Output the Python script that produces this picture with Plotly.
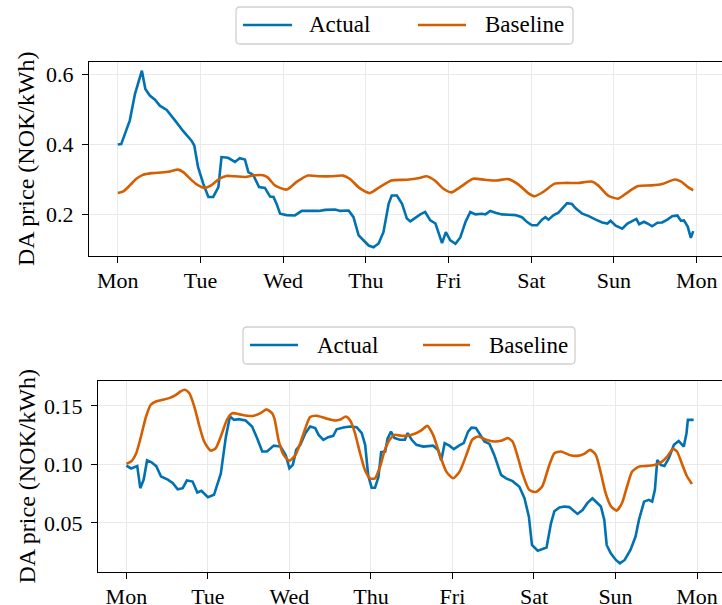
import plotly.graph_objects as go

W, H = 722, 605
BLUE = "#0072B2"
ORANGE = "#D55E00"
FONT = "'Liberation Serif', 'Times New Roman', 'DejaVu Serif', serif"

day_labels = ["Mon", "Tue", "Wed", "Thu", "Fri", "Sat", "Sun", "Mon"]
day_hours = [0, 24, 48, 72, 96, 120, 144, 168]
series_names = ["Actual", "Baseline"]
y_title = "DA price (NOK/kWh)"

top_ticks = [0.2, 0.4, 0.6]
top_ticklabels = ["0.2", "0.4", "0.6"]
bottom_ticks = [0.05, 0.10, 0.15]
bottom_ticklabels = ["0.05", "0.10", "0.15"]

# (hour, NOK/kWh)
top_actual = [
    (0, 0.400), (1, 0.401), (3.5, 0.469), (5, 0.545), (7, 0.611), (8, 0.559), (9.3, 0.540),
    (10.8, 0.528), (12.2, 0.511), (14.2, 0.499), (16.6, 0.469), (19, 0.438), (21.4, 0.411),
    (22.2, 0.397), (23.3, 0.335), (24.8, 0.288), (26.3, 0.250), (27.7, 0.250), (29.2, 0.278),
    (30.1, 0.364), (32, 0.362), (34, 0.350), (35.4, 0.361), (36.9, 0.357), (37.9, 0.321),
    (39.3, 0.313), (41, 0.278), (42.7, 0.276), (44.2, 0.251), (45.2, 0.250), (46.1, 0.230),
    (47.1, 0.202), (49, 0.198), (51.4, 0.197), (53.4, 0.210), (55.8, 0.210), (58.3, 0.210),
    (60.2, 0.213), (61.6, 0.213), (63.1, 0.214), (64.5, 0.210), (67, 0.211), (68.4, 0.192),
    (69.9, 0.140), (71.3, 0.126), (72.8, 0.111), (74.2, 0.106), (75.7, 0.117), (77.1, 0.149),
    (78.6, 0.230), (79.5, 0.254), (81, 0.254), (82.5, 0.230), (83.9, 0.188), (84.9, 0.180),
    (86.3, 0.190), (87.8, 0.200), (89.2, 0.207), (90.7, 0.183), (92.2, 0.174), (93.1, 0.150),
    (94.1, 0.118), (95.2, 0.149), (96.5, 0.126), (98, 0.116), (99.4, 0.134), (100.9, 0.178),
    (102.3, 0.207), (103.8, 0.200), (105.7, 0.202), (106.7, 0.200), (108.1, 0.210),
    (109.6, 0.205), (111.5, 0.200), (113.5, 0.199), (115.4, 0.198), (117.3, 0.192),
    (118.8, 0.178), (120.2, 0.169), (121.7, 0.169), (123.1, 0.185), (124.1, 0.192),
    (125, 0.185), (126.5, 0.198), (127.9, 0.205), (129.4, 0.221), (130.4, 0.232),
    (131.8, 0.230), (132.8, 0.218), (134.8, 0.202), (136.7, 0.195), (138.7, 0.185),
    (140.6, 0.177), (142.1, 0.174), (143, 0.182), (144.5, 0.168), (146.4, 0.159),
    (147.9, 0.174), (149.3, 0.182), (150.5, 0.187), (151.3, 0.172), (152.7, 0.179),
    (153.7, 0.174), (155.1, 0.166), (156.6, 0.176), (158, 0.177), (159.5, 0.185),
    (160.9, 0.195), (162.4, 0.197), (163.4, 0.182), (164.3, 0.183), (165.4, 0.165),
    (166.3, 0.133), (167, 0.152),
]

top_baseline = [
    (0, 0.261), (1.6, 0.266), (3.5, 0.283), (5.4, 0.302), (7.3, 0.313), (9.8, 0.318),
    (12.7, 0.320), (15.1, 0.323), (17.5, 0.328), (19, 0.321), (21, 0.302), (22.9, 0.286),
    (25.2, 0.276), (27.1, 0.283), (29.5, 0.302), (31.5, 0.310), (34, 0.309), (36.9, 0.307),
    (39.8, 0.312), (42.2, 0.312), (43.5, 0.306), (45.6, 0.283), (49, 0.271), (51.9, 0.293),
    (55.2, 0.311), (58.6, 0.309), (62, 0.309), (65.4, 0.311), (67.3, 0.302), (70.2, 0.275),
    (73.1, 0.261), (76, 0.278), (79.4, 0.297), (83.8, 0.299), (87.6, 0.304), (89.6, 0.309),
    (92, 0.297), (94.4, 0.274), (96.8, 0.263), (99.7, 0.280), (103.1, 0.302), (106.5, 0.299),
    (109.9, 0.297), (113.3, 0.301), (116.2, 0.286), (119.1, 0.261), (121, 0.252),
    (123.4, 0.264), (126.8, 0.288), (129.7, 0.290), (133.6, 0.290), (137.5, 0.294),
    (139.4, 0.283), (142.3, 0.254), (145.2, 0.245), (148.1, 0.264), (151, 0.281),
    (154.9, 0.283), (158.3, 0.288), (161.6, 0.300), (163.5, 0.294), (165.5, 0.278),
    (167, 0.269),
]

bottom_actual = [
    (0, 0.099), (1.4, 0.0965), (3.2, 0.0985), (4.1, 0.0797), (5.1, 0.087), (6.1, 0.1034),
    (7.3, 0.102), (8.8, 0.0985), (10.2, 0.0896), (12.2, 0.087), (13.7, 0.084), (15.1, 0.0788),
    (16.6, 0.0797), (17.8, 0.0862), (19.5, 0.0853), (20.9, 0.076), (22.1, 0.0774), (24, 0.072),
    (25.8, 0.074), (27.8, 0.092), (29.3, 0.1237), (30.5, 0.1409), (31.7, 0.138), (33.1, 0.1386),
    (35.1, 0.1375), (37, 0.1323), (38.5, 0.1223), (40, 0.111), (41.4, 0.111), (43.4, 0.1160),
    (45.4, 0.1152), (46.9, 0.108), (48, 0.0967), (49, 0.0996), (50, 0.1124), (51.2, 0.1167),
    (52.7, 0.1266), (54.1, 0.1323), (55.6, 0.131), (56.6, 0.1252), (58, 0.121), (59.4, 0.1232),
    (60.9, 0.1244), (61.9, 0.130), (63.9, 0.1315), (65.8, 0.1323), (67.8, 0.1318),
    (69.3, 0.1266), (70.3, 0.1167), (71.2, 0.0906), (72.2, 0.0801), (73.2, 0.0801),
    (74.2, 0.0892), (75, 0.1105), (76.2, 0.111), (76.9, 0.122), (77.9, 0.128), (78.9, 0.1226),
    (80.5, 0.121), (82, 0.121), (82.8, 0.1267), (84, 0.121), (85.4, 0.1167), (87.4, 0.1152),
    (90.3, 0.116), (91.8, 0.112), (92.7, 0.1034), (93.7, 0.1181), (95.1, 0.116), (96.4, 0.113),
    (97.9, 0.116), (99.3, 0.1181), (100.6, 0.128), (101.6, 0.1314), (102.9, 0.131),
    (104.2, 0.1252), (105.4, 0.1195), (106.9, 0.1175), (108.3, 0.1081), (110.3, 0.091),
    (111.8, 0.088), (113.7, 0.0857), (115.7, 0.0809), (117.2, 0.0711), (118.5, 0.0554),
    (119.4, 0.0312), (121.1, 0.0263), (122.3, 0.0275), (123.7, 0.029), (125, 0.0497),
    (126, 0.06), (127.5, 0.0632), (128.9, 0.064), (130.4, 0.0635), (131.9, 0.06),
    (132.8, 0.0577), (134.3, 0.061), (135.7, 0.0669), (137.2, 0.0711), (138.7, 0.0669),
    (139.7, 0.064), (140.7, 0.0526), (141.4, 0.0312), (142.6, 0.024), (144.1, 0.0184),
    (145.3, 0.0155), (146.7, 0.0184), (148.4, 0.027), (149.9, 0.0384), (150.9, 0.0526),
    (152.4, 0.0682), (153.8, 0.0697), (154.8, 0.0682), (155.6, 0.0782), (156.3, 0.1038),
    (157.3, 0.0996), (158.4, 0.0987), (159.7, 0.1052), (161.2, 0.1167), (162.6, 0.120),
    (164.1, 0.1152), (164.9, 0.1266), (165.3, 0.138), (167, 0.138),
]

bottom_baseline = [
    (0, 0.1004), (1.4, 0.1024), (2.9, 0.1095), (4.3, 0.1238), (5.8, 0.1409), (7.2, 0.1509),
    (8.7, 0.1537), (10.6, 0.1551), (12.6, 0.1566), (14.6, 0.1594), (16, 0.1623), (17.2, 0.1637),
    (18.5, 0.1609), (20, 0.1494), (21.4, 0.1338), (22.9, 0.1195), (24.8, 0.1118), (26.3, 0.1138),
    (27.8, 0.1238), (29.7, 0.1386), (31.2, 0.1437), (33.1, 0.1429), (35.6, 0.1415),
    (37.5, 0.1415), (39.5, 0.1437), (41.2, 0.1470), (42.9, 0.1437), (43.6, 0.1390),
    (44.9, 0.1195), (46.3, 0.1081), (48, 0.103), (49.8, 0.1081), (51.2, 0.1181), (52.7, 0.1309),
    (54.1, 0.1404), (56.1, 0.1415), (58.5, 0.1395), (61.5, 0.1375), (63.2, 0.1386),
    (64.6, 0.1409), (65.9, 0.1375), (67.3, 0.1267), (68.8, 0.1095), (70.3, 0.0947),
    (71.7, 0.0881), (73.2, 0.0881), (74.7, 0.0981), (76.1, 0.1124), (77.6, 0.1215), (79, 0.1252),
    (81, 0.1244), (82.9, 0.1247), (84.9, 0.1261), (86.8, 0.129), (88.6, 0.1329), (90.3, 0.1252),
    (92.3, 0.1081), (94.2, 0.0938), (96.2, 0.0882), (98.1, 0.0938), (100.1, 0.1081),
    (101.8, 0.121), (103.5, 0.1238), (105.9, 0.121), (108.3, 0.1195), (110.3, 0.1201),
    (112.3, 0.1224), (113.7, 0.1195), (115.2, 0.1067), (116.6, 0.0924), (118.6, 0.0782),
    (120.6, 0.0765), (122.5, 0.0816), (124.3, 0.0976), (126, 0.1095), (127.9, 0.111),
    (130.4, 0.1081), (132.8, 0.1073), (134.8, 0.109), (136.5, 0.1124), (138.2, 0.1081),
    (139.7, 0.0924), (141.1, 0.0754), (142.6, 0.0645), (144.3, 0.0605), (145.9, 0.0668),
    (147.4, 0.0811), (148.9, 0.0939), (150.9, 0.0981), (153.3, 0.0987), (155.7, 0.0996),
    (157.7, 0.1024), (159.2, 0.1067), (160.9, 0.1132), (162.1, 0.111), (163.5, 0.101),
    (165, 0.0901), (166.5, 0.0833),
]


def px(x):
    return x / W


def py(y):
    return 1 - y / H


def unzip(pairs):
    return [p[0] for p in pairs], [p[1] for p in pairs]


fig = go.Figure()

panels = [
    (top_actual, top_baseline, "x", "y"),
    (bottom_actual, bottom_baseline, "x2", "y2"),
]
for act, base, xa, ya in panels:
    hx, hv = unzip(act)
    fig.add_trace(go.Scatter(x=hx, y=hv, xaxis=xa, yaxis=ya, mode="lines",
                             line=dict(color=BLUE, width=2.6), showlegend=False,
                             name=series_names[0]))
    bx, bv = unzip(base)
    fig.add_trace(go.Scatter(x=bx, y=bv, xaxis=xa, yaxis=ya, mode="lines",
                             line=dict(color=ORANGE, width=2.6, shape="spline", smoothing=0.6),
                             showlegend=False, name=series_names[1]))

xr = [-8.35, 175.35]
common_x = dict(range=xr, tickvals=day_hours, ticktext=day_labels, showline=True,
                linecolor="black", linewidth=1.3, mirror=True, ticks="outside", ticklen=6,
                tickwidth=1.3, tickcolor="black", showgrid=True, gridcolor="#e9e9e9",
                gridwidth=1.2, zeroline=False, automargin=False,
                tickfont=dict(family=FONT, size=22, color="black"), ticklabelstandoff=-2)
common_y = dict(showline=True, linecolor="black", linewidth=1.3, mirror=False,
                ticks="outside", ticklen=6, tickwidth=1.3, tickcolor="black", showgrid=True,
                gridcolor="#e9e9e9", gridwidth=1.2, zeroline=False, automargin=False,
                tickfont=dict(family=FONT, size=22, color="black"), ticklabelstandoff=4)

fig.update_layout(
    width=W, height=H, autosize=False,
    margin=dict(l=0, r=0, t=0, b=0, pad=0),
    paper_bgcolor="white", plot_bgcolor="white",
    showlegend=False,
    font=dict(family=FONT),
    xaxis=dict(domain=[px(89), 1.0], anchor="y", **common_x),
    yaxis=dict(domain=[py(256), py(62)], anchor="x", range=[0.081, 0.636],
               tickvals=top_ticks, ticktext=top_ticklabels, **common_y),
    xaxis2=dict(domain=[px(98), 1.0], anchor="y2", **common_x),
    yaxis2=dict(domain=[py(572), py(381)], anchor="x2", range=[0.0081, 0.1712],
                tickvals=bottom_ticks, ticktext=bottom_ticklabels, **common_y),
)

# y-axis titles
for yc in [(62 + 256) / 2, (381 + 572) / 2]:
    fig.add_annotation(text=y_title, xref="paper", yref="paper", x=px(26), y=py(yc),
                       xanchor="center", yanchor="middle", textangle=-90, showarrow=False,
                       font=dict(family=FONT, size=24, color="black"))


def rounded_box(x0, y0, x1, y1, r=4):
    X0, X1 = px(x0), px(x1)
    Y0, Y1 = py(y0), py(y1)
    rx, ry = r / W, r / H
    return (f"M{X0 + rx},{Y0} L{X1 - rx},{Y0} Q{X1},{Y0} {X1},{Y0 - ry} "
            f"L{X1},{Y1 + ry} Q{X1},{Y1} {X1 - rx},{Y1} L{X0 + rx},{Y1} "
            f"Q{X0},{Y1} {X0},{Y1 + ry} L{X0},{Y0 - ry} Q{X0},{Y0} {X0 + rx},{Y0} Z")


# custom legends (box, key lines, labels) in pixel layout
legends = [
    dict(box=(236, 7, 573, 44), yc=25, keys=[(243, 292, 307), (418, 466, 483)]),
    dict(box=(243, 327, 575, 364), yc=345, keys=[(250, 298, 315), (423, 470, 487)]),
]
for lg in legends:
    x0, y0, x1, y1 = lg["box"]
    fig.add_shape(type="path", path=rounded_box(x0, y0, x1, y1), xref="paper", yref="paper",
                  line=dict(color="#d0d0d0", width=1.3), fillcolor="white", layer="above")
    for (k0, k1, tx), color, name in zip(lg["keys"], [BLUE, ORANGE], series_names):
        fig.add_shape(type="line", x0=px(k0), x1=px(k1), y0=py(lg["yc"]), y1=py(lg["yc"]),
                      xref="paper", yref="paper", line=dict(color=color, width=2.6),
                      layer="above")
        fig.add_annotation(text=name, xref="paper", yref="paper", x=px(tx), y=py(lg["yc"]),
                           xanchor="left", yanchor="middle", showarrow=False,
                           font=dict(family=FONT, size=23, color="black"))

fig.write_html("out.html", config={"displayModeBar": False},
               post_script="document.body.style.margin='0';document.body.style.overflow='hidden';")
